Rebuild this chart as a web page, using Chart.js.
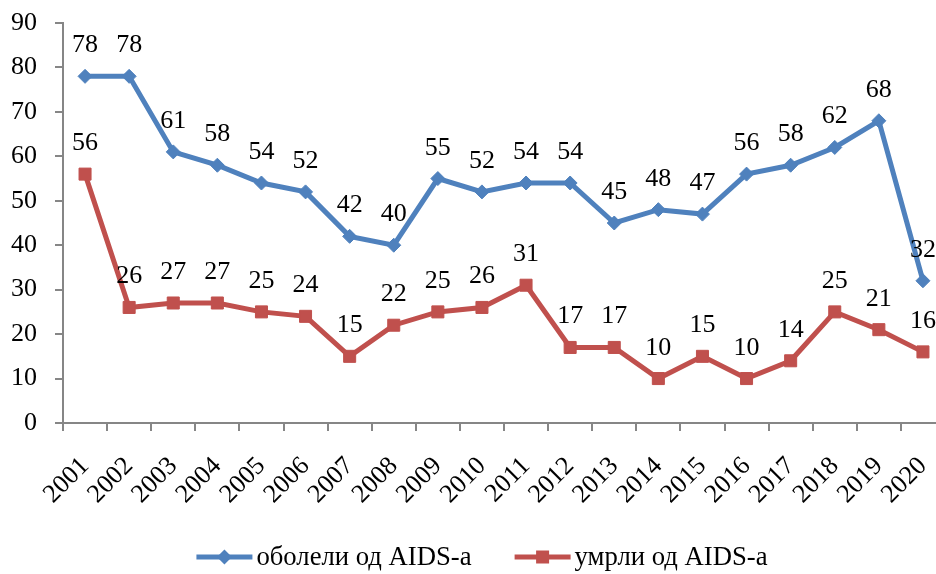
<!DOCTYPE html>
<html>
<head>
<meta charset="utf-8">
<script src="https://cdn.jsdelivr.net/npm/chart.js@4/dist/chart.umd.min.js"></script>
<style>
html,body{margin:0;padding:0;overflow:hidden;background:#fff;width:936px;height:574px}
#wrap{width:968px;height:574px;position:relative}
</style>
</head>
<body>
<div id="wrap"><canvas id="c"></canvas></div>
<script>
const years = ['2001','2002','2003','2004','2005','2006','2007','2008','2009','2010','2011','2012','2013','2014','2015','2016','2017','2018','2019','2020'];
const infected = [78,78,61,58,54,52,42,40,55,52,54,54,45,48,47,56,58,62,68,32];
const deaths = [56,26,27,27,25,24,15,22,25,26,31,17,17,10,15,10,14,25,21,16];
const seriesNames = ['оболели од AIDS-а','умрли од AIDS-а'];
const yMin = 0, yMax = 90, yStep = 10;

const FONT = '"Liberation Serif", "Times New Roman", serif';
const BLUE = '#4F81BD', RED = '#C0504D', AXIS = '#868686';
const TXT = 26, LEG = 26.7;

const valueLabels = {
  id: 'valueLabels',
  afterDatasetsDraw(chart){
    const ctx = chart.ctx;
    ctx.save();
    ctx.font = TXT + 'px ' + FONT;
    ctx.fillStyle = '#000';
    ctx.textAlign = 'center';
    ctx.textBaseline = 'alphabetic';
    chart.data.datasets.forEach((ds, i) => {
      const meta = chart.getDatasetMeta(i);
      meta.data.forEach((pt, j) => {
        ctx.fillText(String(ds.data[j]), pt.x, pt.y - 24);
      });
    });
    ctx.restore();
  }
};

// legend: line with marker, then label, centred under the chart
const lineLegend = {
  id: 'lineLegend',
  afterDraw(chart){
    const ctx = chart.ctx;
    const cx = 482, cy = 557, lineW = 56, gapText = 4, gapItem = 43;
    ctx.save();
    ctx.font = LEG + 'px ' + FONT;
    const items = chart.data.datasets.map(ds => ({ ds, w: ctx.measureText(ds.label).width }));
    const total = items.reduce((a, it) => a + lineW + gapText + it.w, 0) + gapItem * (items.length - 1);
    let x = cx - total / 2;
    items.forEach(({ ds, w }) => {
      ctx.strokeStyle = ds.borderColor; ctx.lineWidth = ds.borderWidth;
      ctx.beginPath(); ctx.moveTo(x, cy); ctx.lineTo(x + lineW, cy); ctx.stroke();
      ctx.fillStyle = ds.borderColor;
      const mx = x + lineW / 2;
      if (ds.pointStyle === 'rectRot') {
        ctx.beginPath(); ctx.moveTo(mx, cy - 7.5); ctx.lineTo(mx + 7.5, cy); ctx.lineTo(mx, cy + 7.5); ctx.lineTo(mx - 7.5, cy); ctx.closePath(); ctx.fill();
      } else {
        ctx.fillRect(mx - 6.5, cy - 6.5, 13, 13);
      }
      ctx.fillStyle = '#000'; ctx.textAlign = 'left'; ctx.textBaseline = 'middle';
      ctx.fillText(ds.label, x + lineW + gapText, cy + 1);
      x += lineW + gapText + w + gapItem;
    });
    ctx.restore();
  }
};

new Chart(document.getElementById('c'), {
  type: 'line',
  data: {
    labels: years,
    datasets: [
      {
        label: seriesNames[0], data: infected,
        borderColor: BLUE, backgroundColor: BLUE, borderWidth: 5,
        pointStyle: 'rectRot', pointRadius: 7, pointBorderWidth: 1,
        pointBackgroundColor: BLUE, pointBorderColor: BLUE,
        tension: 0, clip: false
      },
      {
        label: seriesNames[1], data: deaths,
        borderColor: RED, backgroundColor: RED, borderWidth: 5,
        pointStyle: 'rect', pointRadius: 8.5, pointBorderWidth: 1,
        pointBackgroundColor: RED, pointBorderColor: RED,
        tension: 0, clip: false
      }
    ]
  },
  options: {
    responsive: true,
    maintainAspectRatio: false,
    animation: false,
    layout: { padding: { top: 23, left: 0, right: 23, bottom: 0 } },
    plugins: {
      tooltip: { enabled: false },
      legend: { display: false }
    },
    scales: {
      x: {
        type: 'category',
        offset: true,
        grid: { offset: true, drawOnChartArea: false, drawTicks: true, tickLength: 8, color: AXIS, lineWidth: 2 },
        border: { color: AXIS, width: 2 },
        ticks: { color: '#000', font: { family: FONT, size: TXT }, maxRotation: 45, minRotation: 45, autoSkip: false, padding: 20 },
        afterFit(s){ s.height = 151; s.paddingLeft = 0; s.paddingRight = 0; }
      },
      y: {
        min: yMin, max: yMax,
        grid: { drawOnChartArea: false, drawTicks: true, tickLength: 8, color: AXIS, lineWidth: 2 },
        border: { color: AXIS, width: 2 },
        ticks: { stepSize: yStep, color: '#000', font: { family: FONT, size: TXT }, padding: 18 },
        afterFit(s){ s.width = 63; s.paddingTop = 0; s.paddingBottom = 0; }
      }
    }
  },
  plugins: [valueLabels, lineLegend]
});
</script>
</body>
</html>
